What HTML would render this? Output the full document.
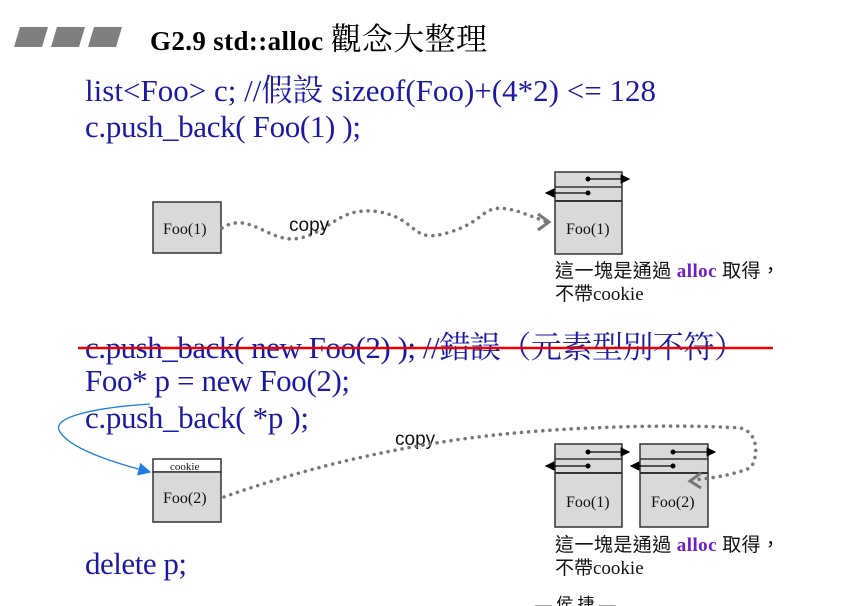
<!DOCTYPE html>
<html><head><meta charset="utf-8"><style>
html,body{margin:0;padding:0;background:#fff;width:844px;height:606px;overflow:hidden}
svg{display:block}
.code{font-family:"Liberation Serif","Noto Serif CJK SC",serif;font-size:31px;fill:#1a1aa6}
.box{fill:#d9d9d9;stroke:#333;stroke-width:1.5}
.lbl{font-family:"Liberation Serif",serif;font-size:16px;fill:#111}
.note{font-family:"Liberation Serif","Noto Sans CJK TC",serif;font-size:19px;fill:#111}
.dot{fill:none;stroke:#777;stroke-width:3.5;stroke-dasharray:0.1 7;stroke-linecap:round}
</style></head><body>
<svg width="844" height="606" viewBox="0 0 844 606" xmlns="http://www.w3.org/2000/svg">
<defs>
<marker id="ar" markerWidth="8" markerHeight="8" refX="7" refY="4" orient="auto"><path d="M0,0 L8,4 L0,8 z" fill="#000"/></marker>
<marker id="bl" markerWidth="10" markerHeight="10" refX="9" refY="5" orient="auto"><path d="M0,0 L10,5 L0,10 z" fill="#1e7ee0"/></marker>
</defs>
<g fill="#7f7f7f">
<polygon points="20,27 48,27 42,47 14,47"/>
<polygon points="57,27 85,27 79,47 51,47"/>
<polygon points="94,27 122,27 116,47 88,47"/>
</g>
<text x="150" y="50" font-family="Liberation Serif,'Noto Serif CJK SC',serif" font-size="27" font-weight="bold" fill="#000" textLength="337">G2.9 std::alloc <tspan font-size="31" font-weight="normal">觀念大整理</tspan></text>
<text class="code" x="85" y="101" textLength="571">list&lt;Foo&gt; c;  //假設 sizeof(Foo)+(4*2) &lt;= 128</text>
<text class="code" x="85" y="137" textLength="276">c.push_back( Foo(1) );</text>

<rect class="box" x="153" y="202" width="68" height="51"/>
<text class="lbl" x="163" y="234">Foo(1)</text>
<path class="dot" d="M222,228 C250,210 270,245 300,238 C330,232 340,205 380,212 C420,220 410,245 450,232 C490,220 480,200 520,212 L547,222"/>
<path d="M538,214 L549,222 L538,230" fill="none" stroke="#777" stroke-width="3"/>
<text x="289" y="231" font-family="Liberation Sans,sans-serif" font-size="19" fill="#111">copy</text>

<rect class="box" x="555" y="172" width="67" height="82"/>
<line x1="555" y1="187" x2="622" y2="187" stroke="#333" stroke-width="1.5"/>
<line x1="555" y1="201" x2="622" y2="201" stroke="#333" stroke-width="2"/>
<line x1="588" y1="179" x2="629" y2="179" stroke="#000" stroke-width="1.2" marker-end="url(#ar)"/>
<circle cx="588" cy="179" r="2.5"/>
<line x1="588" y1="193" x2="546" y2="193" stroke="#000" stroke-width="1.2" marker-end="url(#ar)"/>
<circle cx="588" cy="193" r="2.5"/>
<text class="lbl" x="566" y="234">Foo(1)</text>
<text class="note" x="555" y="277" textLength="225">這一塊是通過 <tspan font-family="Liberation Serif,serif" font-weight="bold" fill="#6a1fc9">alloc</tspan> 取得，</text>
<text class="note" x="555" y="300">不帶cookie</text>

<text class="code" x="85" y="358" textLength="660">c.push_back( new Foo(2) ); //錯誤（元素型別不符）</text>
<line x1="78" y1="348" x2="773" y2="348" stroke="#e00" stroke-width="2.5"/>
<text class="code" x="85" y="391" textLength="265">Foo* p = new Foo(2);</text>
<text class="code" x="85" y="428" textLength="224">c.push_back( *p );</text>
<text class="code" x="85" y="574" textLength="102">delete p;</text>

<path d="M150,404 C90,408 50,418 60,432 C70,448 110,462 150,472" fill="none" stroke="#1e7ee0" stroke-width="1.3" marker-end="url(#bl)"/>

<rect x="153" y="459" width="68" height="13" fill="#fff" stroke="#333" stroke-width="1.5"/>
<text x="170" y="470" font-family="Liberation Serif,serif" font-size="11" fill="#111">cookie</text>
<rect class="box" x="153" y="472" width="68" height="50"/>
<text class="lbl" x="163" y="503">Foo(2)</text>

<text x="395" y="445" font-family="Liberation Sans,sans-serif" font-size="19" fill="#111">copy</text>

<rect class="box" x="555" y="444" width="67" height="83"/>
<line x1="555" y1="459" x2="622" y2="459" stroke="#333" stroke-width="1.5"/>
<line x1="555" y1="473" x2="622" y2="473" stroke="#333" stroke-width="2"/>
<line x1="588" y1="452" x2="629" y2="452" stroke="#000" stroke-width="1.2" marker-end="url(#ar)"/>
<circle cx="588" cy="452" r="2.5"/>
<line x1="588" y1="466" x2="546" y2="466" stroke="#000" stroke-width="1.2" marker-end="url(#ar)"/>
<circle cx="588" cy="466" r="2.5"/>
<text class="lbl" x="566" y="507">Foo(1)</text>

<rect class="box" x="640" y="444" width="68" height="83"/>
<line x1="640" y1="459" x2="708" y2="459" stroke="#333" stroke-width="1.5"/>
<line x1="640" y1="473" x2="708" y2="473" stroke="#333" stroke-width="2"/>
<line x1="673" y1="452" x2="715" y2="452" stroke="#000" stroke-width="1.2" marker-end="url(#ar)"/>
<circle cx="673" cy="452" r="2.5"/>
<line x1="673" y1="466" x2="631" y2="466" stroke="#000" stroke-width="1.2" marker-end="url(#ar)"/>
<circle cx="673" cy="466" r="2.5"/>
<text class="lbl" x="651" y="507">Foo(2)</text>

<path class="dot" d="M224,497 C300,470 380,450 470,438 C560,426 680,424 740,428 C760,432 758,460 750,468 C730,476 710,478 694,480"/>
<path d="M701,473 L690,481 L701,488" fill="none" stroke="#777" stroke-width="3"/>

<text class="note" x="555" y="551" textLength="225">這一塊是通過 <tspan font-family="Liberation Serif,serif" font-weight="bold" fill="#6a1fc9">alloc</tspan> 取得，</text>
<text class="note" x="555" y="574">不帶cookie</text>
<text x="535" y="610" font-family="Liberation Serif,'Noto Sans CJK TC',serif" font-size="17" fill="#111">— 侯 捷 —</text>
</svg>
</body></html>
